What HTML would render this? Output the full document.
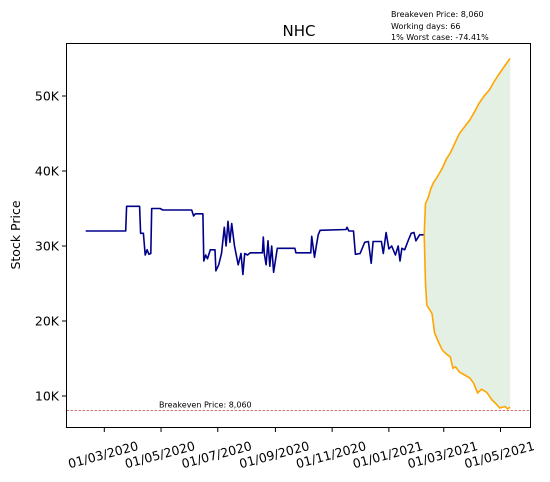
<!DOCTYPE html>
<html><head><meta charset="utf-8">
<style>
body{margin:0;background:#fff;}
svg{display:block;font-family:"DejaVu Sans","Liberation Sans",sans-serif;}
</style></head>
<body>
<svg id="chart" width="550" height="482">
  <rect x="0" y="0" width="550" height="482" fill="#fff"/>
  <text x="299" y="36" font-size="15" text-anchor="middle">NHC</text>
  <g font-size="8">
    <text x="391" y="17">Breakeven Price: 8,060</text>
    <text x="391" y="29">Working days: 66</text>
    <text x="391" y="40">1% Worst case: -74.41%</text>
  </g>
  <text transform="translate(20,235) rotate(-90)" font-size="12.5" text-anchor="middle">Stock Price</text>
  <g id="plot"></g>
  <rect x="66.5" y="43.5" width="464" height="384" fill="none" stroke="#000" stroke-width="1"/>
</svg>
<script>
// historical prices: days from 01/03/2020, price
const histDays = [-20,23,24,38,39,42,44,46,48,50,51,60,63,94,96,98,106,107,109,111,114,119,120,123,126,129,131,133,135,137,140,144,147,149,151,154,157,170,171,172,174,176,178,180,182,186,205,206,222,223,226,228,230,232,260,261,263,268,270,275,280,284,287,289,298,300,303,306,309,313,316,318,320,323,327,330,333,335,339,344];
const histPrices = [32000,32000,35300,35300,31700,31700,28800,29500,28900,29000,35000,35000,34800,34800,34000,34300,34300,28000,28800,28300,29500,29500,26700,27500,29000,32500,30000,33300,30500,33000,30000,27500,29000,26200,29000,28800,29100,29100,31200,29000,27500,30700,27300,30000,26500,29700,29700,29100,29100,31300,28500,30000,31500,32100,32200,32500,32000,32000,28900,29000,30500,30600,27700,30600,30600,29000,31800,29600,30000,28800,30000,28000,29700,29500,30800,31700,31800,30700,31500,31500];
// projection: working day index
const upperK = [0,1,3,5,7,10,14,17,20,24,27,31,35,39,42,46,50,54,57,61,65,66];
const upperV = [31500,35700,36400,37600,38400,39200,40400,41600,42400,43900,45000,45900,46800,48000,49000,50000,50800,52000,52800,53800,54800,55000];
const lowerK = [0,1,2,6,8,11,14,17,20,22,24,27,31,35,38,41,44,48,52,55,58,62,64,66];
const lowerV = [31500,25000,22100,21000,18400,17200,16100,15600,15200,13700,13900,13200,12800,12400,11700,10400,10900,10500,9500,9000,8400,8600,8300,8500];
const breakeven = 8060;
const yTicks = [10000,20000,30000,40000,50000];
const yTickLabels = ["10K","20K","30K","40K","50K"];
const xTickDays = [0,61,122,184,245,306,365,426];
const xTickLabels = ["01/03/2020","01/05/2020","01/07/2020","01/09/2020","01/11/2020","01/01/2021","01/03/2021","01/05/2021"];

const startDay = 344;
function xDay(d){return 104.3 + d*0.93;}
function xWork(k){return xDay(startDay + k*7/5);}
function y(v){return 396 - (v-10000)*0.0075;}

const NS="http://www.w3.org/2000/svg";
const plot=document.getElementById('plot');
function mk(tag,attrs,parent){const e=document.createElementNS(NS,tag);for(const k in attrs)e.setAttribute(k,attrs[k]);(parent||plot).appendChild(e);return e;}

let fd="M"+upperK.map((k,i)=>xWork(k).toFixed(1)+","+y(upperV[i]).toFixed(1)).join("L");
for(let i=lowerK.length-1;i>=0;i--) fd+="L"+xWork(lowerK[i]).toFixed(1)+","+y(lowerV[i]).toFixed(1);
fd+="Z";
const band=mk('path',{d:fd,fill:"#e3f0e3",stroke:"none"});



const bl=mk('line',{x1:66.5,x2:530.5,y1:y(breakeven),y2:y(breakeven),stroke:"#c06060","stroke-width":0.8,"stroke-dasharray":"2.5,1.5"});


const bt=mk('text',{x:159,y:y(breakeven)-3,"font-size":"8"});
bt.textContent="Breakeven Price: 8,060";



const hd="M"+histDays.map((d,i)=>xDay(d).toFixed(1)+","+y(histPrices[i]).toFixed(1)).join("L");
const hl=mk('path',{d:hd,fill:"none",stroke:"#00008b","stroke-width":1.6,"stroke-linejoin":"round"});



const ud="M"+upperK.map((k,i)=>xWork(k).toFixed(1)+","+y(upperV[i]).toFixed(1)).join("L");
const ul=mk('path',{d:ud,fill:"none",stroke:"#ffa500","stroke-width":1.6});


const ld="M"+lowerK.map((k,i)=>xWork(k).toFixed(1)+","+y(lowerV[i]).toFixed(1)).join("L");
const ll=mk('path',{d:ld,fill:"none",stroke:"#ffa500","stroke-width":1.6});



yTicks.forEach((v,i)=>{
  const t=mk('line',{x1:62,x2:66.5,y1:y(v),y2:y(v),stroke:"#000"});
  
  
  const l=mk('text',{x:59,y:y(v)+4.5,"font-size":"12.5","text-anchor":"end"});
  l.textContent=yTickLabels[i];
  
  
});
xTickDays.forEach((d,i)=>{
  const x=xDay(d);
  const t=mk('line',{x1:x,x2:x,y1:427.5,y2:432,stroke:"#000"});
  
  
  const l=mk('text',{transform:"translate("+x+",459) rotate(-15)","font-size":"12.5","text-anchor":"middle"});
  l.textContent=xTickLabels[i];
  
  
});
</script>
</body></html>
